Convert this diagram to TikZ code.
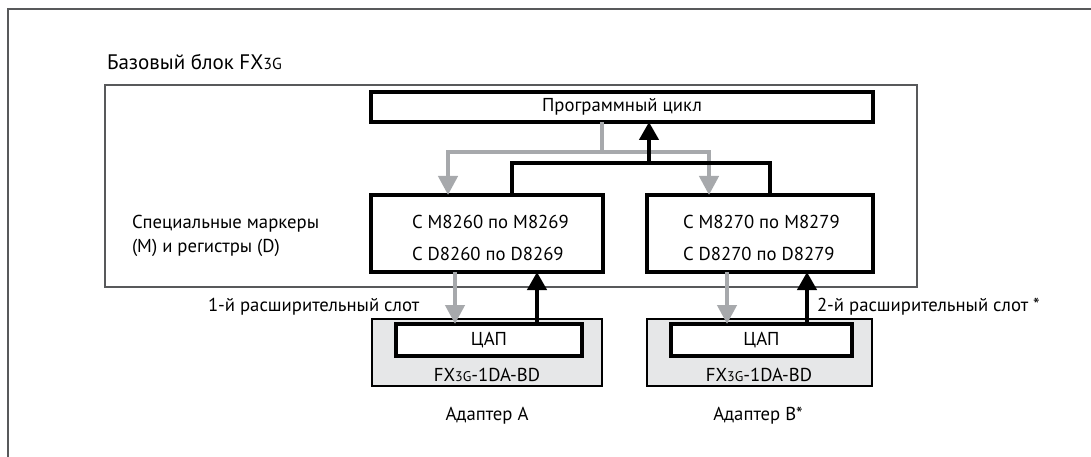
\documentclass[tikz,border=0pt]{standalone}
\usepackage{fontspec}
\setmainfont{PT Sans}
\usetikzlibrary{arrows.meta,calc}
\definecolor{arrgray}{HTML}{A7A9AC}
\definecolor{adfill}{HTML}{E6E7E8}
\definecolor{framegray}{HTML}{58595B}
\newcommand{\smallfx}{\fontsize{14}{16}\selectfont}
\newcommand{\smalltitle}{\fontsize{16}{18}\selectfont}
\begin{document}
\begin{tikzpicture}[x=1pt,y=-1pt,
  every node/.style={font=\fontsize{18.7}{22}\selectfont, inner sep=0pt, outer sep=0pt},
  box/.style={draw=black, line width=3.3pt, rectangle, anchor=north west},
  adbox/.style={draw=black, line width=2.5pt, fill=adfill, anchor=north west},
  basebox/.style={draw=framegray, line width=2pt, anchor=north west},
  gline/.style={draw=arrgray, line width=4.3pt},
  bline/.style={draw=black, line width=4.3pt},
  garr/.style={gline, -{Triangle[length=19pt,width=19pt]}},
  barr/.style={bline, -{Triangle[length=18pt,width=19pt]}},
  txt/.style={anchor=base west},
  ctxt/.style={anchor=base}]
\useasboundingbox (0,0) rectangle (1091,457);
\draw[framegray, line width=2pt] (8,457) -- (8,9.5) -- (1091,9.5);
% boxes
\node[basebox, minimum width=812, minimum height=202] (base) at (105,85) {};
\node[box, minimum width=502, minimum height=30] (prog) at (371,92) {Программный цикл};
\node[box, minimum width=232, minimum height=77] (regA) at (371,195) {};
\node[box, minimum width=226, minimum height=77] (regB) at (647,195) {};
\node[adbox, minimum width=230, minimum height=67] (adA) at (372,319) {};
\node[box, fill=white, minimum width=186, minimum height=32] (dacA) at (396,324) {ЦАП};
\node[adbox, minimum width=225, minimum height=67] (adB) at (647,319) {};
\node[box, fill=white, minimum width=181, minimum height=32] (dacB) at (671,324) {ЦАП};
% texts
\node[txt, font=\fontsize{21}{24}\selectfont] (title) at (107,70) {Базовый блок FX{\smalltitle 3G}};
\node[txt] (sp1) at (132,228) {Специальные маркеры};
\node[txt] (sp2) at (132,252) {(M) и регистры (D)};
\node[txt] (ma) at (412,228) {С M8260 по M8269};
\node[txt] (da) at (412,260) {С D8260 по D8269};
\node[txt] (mb) at (683,228) {С M8270 по M8279};
\node[txt] (db) at (683,260) {С D8270 по D8279};
\node[txt] (s1) at (208,311) {1-й расширительный слот};
\node[txt] (s2) at (817,311) {2-й расширительный слот *};
\node[ctxt] (fxA) at (487,381) {FX{\smallfx 3G}-1DA-BD};
\node[ctxt] (fxB) at (759,381) {FX{\smallfx 3G}-1DA-BD};
\node[ctxt] (adAl) at (487,420) {Адаптер А};
\node[ctxt] (adBl) at (758,420) {Адаптер В*};
% upper connectors
\coordinate (gj) at (602,152);
\coordinate (gA) at (448,152);
\coordinate (gB) at (709,152);
\draw[gline] (prog.south -| gj) -- (gj);
\draw[garr] (gj) -- (gA) -- (gA |- regA.north);
\draw[garr] (gj) -- (gB) -- (gB |- regB.north);
\coordinate (bA) at (512,163);
\coordinate (bB) at (770,163);
\coordinate (bj) at (649,163);
\draw[bline] (bA |- regA.north) -- (bA) -- (bB) -- (bB |- regB.north);
\draw[barr] (bj) -- (bj |- prog.south);
% lower connectors
\coordinate (a1) at (455,300);
\coordinate (a2) at (537,300);
\coordinate (b1) at (727,300);
\coordinate (b2) at (807,300);
\draw[garr] (regA.south -| a1) -- (a1 |- dacA.north);
\draw[barr] (a2 |- dacA.north) -- (a2 |- regA.south);
\draw[garr] (regB.south -| b1) -- (b1 |- dacB.north);
\draw[barr] (b2 |- dacB.north) -- (b2 |- regB.south);
\end{tikzpicture}
\end{document}
